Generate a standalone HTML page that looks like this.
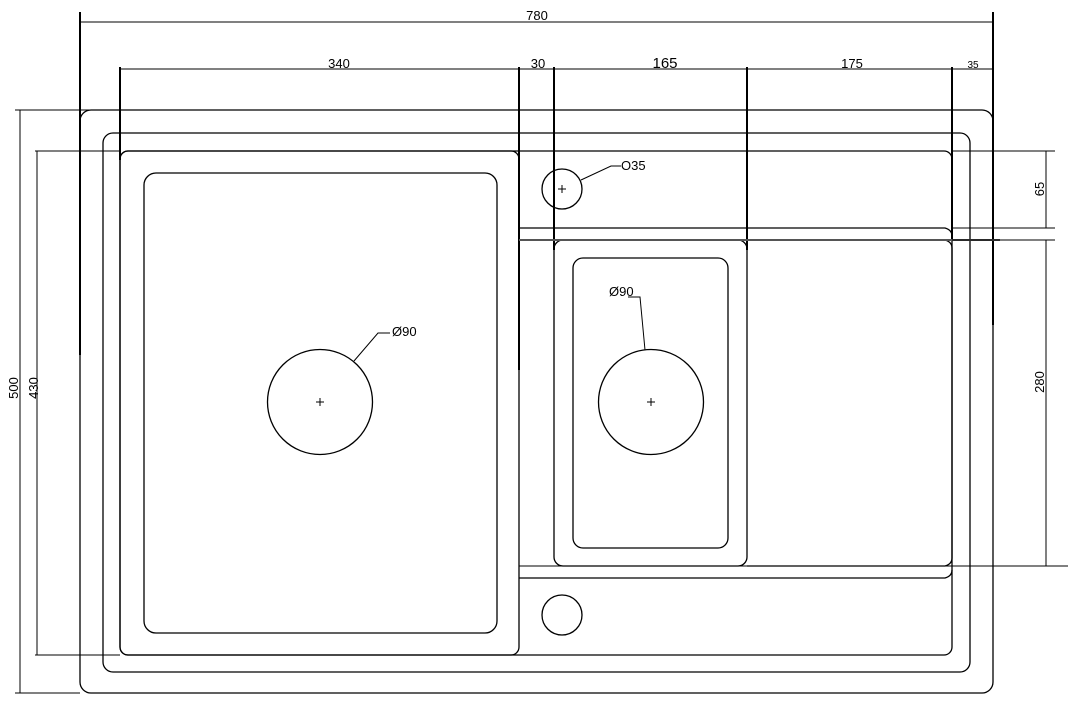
<!DOCTYPE html>
<html><head><meta charset="utf-8"><style>
html,body{margin:0;padding:0;background:#fff}
svg{display:block}
text{font-family:"Liberation Sans",sans-serif;fill:#000}
</style></head><body>
<svg width="1079" height="709" viewBox="0 0 1079 709" xmlns="http://www.w3.org/2000/svg">
<g fill="none" stroke="#000" stroke-width="1.3">
<rect x="80" y="110" width="913" height="583" rx="11"/>
<rect x="103" y="133" width="867" height="539" rx="10"/>
<rect x="120" y="151" width="832" height="504" rx="8"/>
<rect x="120" y="151" width="399" height="504" rx="8"/>
<rect x="144" y="173" width="353" height="460" rx="12"/>
<path d="M519 228 H945 Q952 230 952 236"/>
<path d="M519 578 H945 Q952 576 952 570"/>
<path d="M747 240 H945 Q952 242 952 248 V558 Q952 564 945 566 H747"/>
<rect x="554" y="240" width="193" height="326" rx="9"/>
<rect x="573" y="258" width="155" height="290" rx="10"/>
<circle cx="562" cy="189" r="20"/>
<circle cx="562" cy="615" r="20"/>
<circle cx="320" cy="402" r="52.5"/>
<circle cx="651" cy="402" r="52.5"/>
</g>
<g fill="none" stroke="#000" stroke-width="1">
<path d="M316 402h8M320 398v8M647 402h8M651 398v8M558 189h8M562 185v8"/>
<path d="M354 361 L378 333 H390"/>
<path d="M645 350 L640 297 H628"/>
<path d="M581 180 L611 166 H621"/>
</g>
<g fill="none" stroke="#000" stroke-width="2">
<path d="M80 12 V355 M993 12 V325 M120 67 V160 M519 67 V370 M554 67 V250 M747 67 V250 M952 67 V240"/>
</g>
<g fill="none" stroke="#555" stroke-width="2">
<path d="M519 240 H1000 M554 250 V370"/>
</g>
<g fill="none" stroke="#000" stroke-width="1">
<path d="M80 22 H993 M120 69 H993"/>
<path d="M20 110 V693 M15 110 H120 M15 693 H80"/>
<path d="M37 151 V655 M35 151 H120 M35 655 H120"/>
<path d="M1046 151 V228 M1046 240 V566 M952 151 H1055 M952 228 H1055 M952 240 H1055 M952 566 H1068"/>
<path d="M519 566 H952"/>
</g>
<g font-size="13">
<text x="537" y="20" text-anchor="middle">780</text>
<text x="339" y="68" text-anchor="middle">340</text>
<text x="538" y="68" text-anchor="middle">30</text>
<text x="665" y="68" text-anchor="middle" font-size="15">165</text>
<text x="852" y="68" text-anchor="middle">175</text>
<text x="973" y="68" text-anchor="middle" font-size="10">35</text>
<text x="621" y="170">O35</text>
<text x="392" y="336">Ø90</text>
<text x="609" y="296">Ø90</text>
<text transform="translate(18,388) rotate(-90)" text-anchor="middle">500</text>
<text transform="translate(38,388) rotate(-90)" text-anchor="middle">430</text>
<text transform="translate(1044,189) rotate(-90)" text-anchor="middle">65</text>
<text transform="translate(1044,382) rotate(-90)" text-anchor="middle">280</text>
</g>
</svg>
</body></html>
